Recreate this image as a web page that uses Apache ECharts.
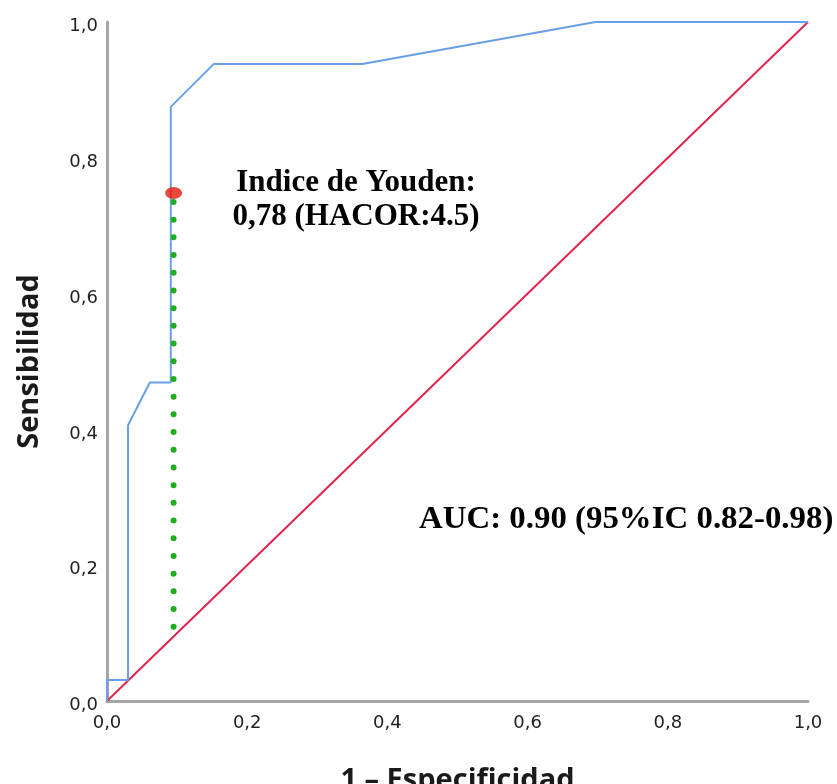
<!DOCTYPE html>
<html>
<head>
<meta charset="utf-8">
<style>html,body{margin:0;padding:0;background:#fff;}#chart{width:837px;height:784px;}</style>
<script src="https://cdn.jsdelivr.net/npm/echarts@6/dist/echarts.min.js"></script>
</head>
<body>
<div id="chart"></div>
<script>
// ROC curve points (1 - especificidad, sensibilidad)
const rocX = [0.0, 0.0, 0.030, 0.030, 0.061, 0.091, 0.091, 0.152, 0.364, 0.697, 1.0];
const rocY = [0.0, 0.031, 0.031, 0.406, 0.469, 0.469, 0.875, 0.938, 0.938, 1.0, 1.0];
// reference diagonal
const diagX = [0.0, 1.0];
const diagY = [0.0, 1.0];
// Youden point and its vertical guide
const youdenX = [0.095];
const youdenY = [0.748];
const guideX = [0.095, 0.095];
const guideY = [0.735, 0.105];
const tickLabels = ['0,0', '0,2', '0,4', '0,6', '0,8', '1,0'];
const youdenText = ['Indice de Youden:', '0,78 (HACOR:4.5)'];
const aucText = 'AUC: 0.90 (95%IC 0.82-0.98)';

const zip = (a, b) => a.map((v, i) => [v, b[i]]);
const fmt = v => tickLabels[Math.round(v * 5)];

const chart = echarts.init(document.getElementById('chart'));
const labelStyle = { formatter: fmt, color: '#222', fontSize: 18, fontFamily: 'DejaVu Sans' };
const axisCommon = {
  type: 'value', min: 0, max: 1, interval: 0.2,
  axisLine: { show: true, lineStyle: { color: '#a6a6a6', width: 3 } },
  axisTick: { show: false },
  splitLine: { show: false },
  nameLocation: 'middle',
  nameTextStyle: { fontSize: 29, fontWeight: 'bold', color: '#1a1a1a', fontFamily: 'Open Sans' }
};
const serif = 'bold 31px "Liberation Serif"';
chart.setOption({
  animation: false,
  grid: { left: 107, right: 29, top: 22, bottom: 83, containLabel: false, outerBoundsMode: 'none' },
  xAxis: Object.assign({}, axisCommon, {
    name: '1 – Especificidad', nameGap: 65,
    axisLabel: Object.assign({}, labelStyle, { margin: 13 })
  }),
  yAxis: Object.assign({}, axisCommon, {
    name: 'Sensibilidad', nameGap: 63,
    axisLabel: Object.assign({}, labelStyle, {
      margin: 9,
      formatter: v => '{t|' + fmt(v) + '}',
      rich: { t: { fontSize: 18, fontFamily: 'DejaVu Sans', color: '#222', padding: [9, 0, 0, 0] } }
    })
  }),
  graphic: [
    { type: 'text', x: 356, y: 183, style: { text: youdenText[0], font: serif, fill: '#000', align: 'center', verticalAlign: 'middle' } },
    { type: 'text', x: 356, y: 217, style: { text: youdenText[1], font: serif, fill: '#000', align: 'center', verticalAlign: 'middle' } },
    { type: 'text', x: 419, y: 520, scaleX: 1.06, style: { text: aucText, font: serif, fill: '#000', align: 'left', verticalAlign: 'middle' } }
  ],
  series: [
    { type: 'line', data: zip(diagX, diagY), symbol: 'none', lineStyle: { color: '#e3254e', width: 2 }, z: 2 },
    { type: 'line', data: zip(rocX, rocY), symbol: 'none', lineStyle: { color: '#6a9fe6', width: 2 }, z: 3 },
    { type: 'line', data: zip(guideX, guideY), symbol: 'none', lineStyle: { color: '#1fad1f', width: 6, type: [0, 17.7], cap: 'round' }, z: 4 },
    { type: 'scatter', data: zip(youdenX, youdenY), symbol: 'circle', symbolSize: [17, 12], itemStyle: { color: '#e31a0b' }, z: 5 }
  ]
});
</script>
</body>
</html>
